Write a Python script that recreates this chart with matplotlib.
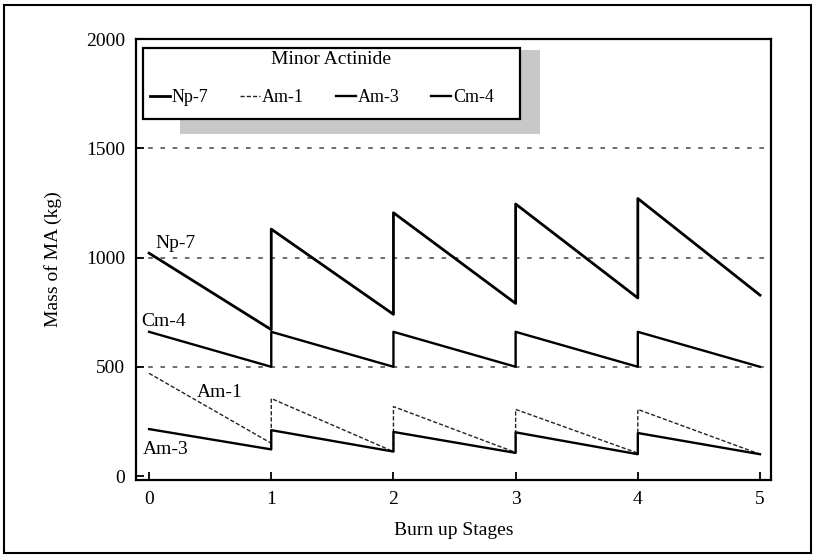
import matplotlib
matplotlib.use("Agg")
import matplotlib.pyplot as plt
from matplotlib.patches import Rectangle

plt.rcParams['font.family'] = ['Liberation Serif', 'DejaVu Serif']

# ---- data ----
stages = [0, 1, 2, 3, 4, 5]
stage_ticks = ['0', '1', '2', '3', '4', '5']
y_ticks = [0, 500, 1000, 1500, 2000]
grid_levels = [500, 1000, 1500]

np7_start = [1020, 1130, 1205, 1245, 1270]
np7_end = [670, 740, 790, 815, 828]
am1_start = [470, 355, 318, 305, 305]
am1_end = [150, 112, 108, 105, 100]
am3_start = [215, 210, 202, 200, 197]
am3_end = [122, 112, 106, 100, 100]
cm4_start = [660, 660, 660, 660, 660]
cm4_end = [500, 500, 500, 500, 500]

series_names = ['Np-7', 'Am-1', 'Am-3', 'Cm-4']
legend_title = 'Minor Actinide'


def sawtooth(starts, ends):
    xs, ys = [], []
    for i, (s, e) in enumerate(zip(starts, ends)):
        xs += [stages[i], stages[i + 1]]
        ys += [s, e]
    return xs, ys


W, H = 816, 557
AX_L, AX_R, AX_T, AX_B = 136, 771, 39, 480
fig = plt.figure(figsize=(W / 100, H / 100), dpi=100)
ax = fig.add_axes([AX_L / W, 1 - AX_B / H, (AX_R - AX_L) / W, (AX_B - AX_T) / H])


def axx(px):
    return (px - AX_L) / (AX_R - AX_L)


def axy(py):
    return (AX_B - py) / (AX_B - AX_T)


# outer frame of the image
fig.patches.append(Rectangle((4 / W, 4 / H), 1 - 9 / W, 1 - 9 / H,
                             transform=fig.transFigure, fill=False,
                             edgecolor='black', linewidth=1.5))

for g in grid_levels:
    ax.axhline(g, color='#444444', linewidth=1.1, linestyle=(0, (3, 5)), zorder=1)

styles = {
    'Np-7': dict(color='black', linewidth=2.0, linestyle='-'),
    'Am-1': dict(color='#222222', linewidth=1.0, linestyle=(0, (3, 1.5))),
    'Am-3': dict(color='black', linewidth=1.7, linestyle='-'),
    'Cm-4': dict(color='black', linewidth=1.7, linestyle='-'),
}
data = {
    'Np-7': (np7_start, np7_end),
    'Am-1': (am1_start, am1_end),
    'Am-3': (am3_start, am3_end),
    'Cm-4': (cm4_start, cm4_end),
}
handles = []
for name in series_names:
    xs, ys = sawtooth(*data[name])
    h, = ax.plot(xs, ys, label=name, zorder=3, **styles[name])
    handles.append(h)

# curve labels
ax.text(0.22, 1064, 'Np-7', fontsize=14, ha='center', va='center')
ax.text(0.12, 709, 'Cm-4', fontsize=14, ha='center', va='center')
ax.text(0.58, 382, 'Am-1', fontsize=14, ha='center', va='center')
ax.text(0.14, 123, 'Am-3', fontsize=14, ha='center', va='center')

ax.set_xlim(-0.107, 5.09)
ax.set_ylim(-18, 2000)
ax.set_xticks(stages)
ax.set_xticklabels(stage_ticks)
ax.set_yticks(y_ticks)
ax.tick_params(direction='in', length=6, width=1.3, labelsize=14, pad=8)
for sp in ax.spines.values():
    sp.set_linewidth(1.6)

ax.set_xlabel('Burn up Stages', fontsize=14)
ax.set_ylabel('Mass of MA (kg)', fontsize=14)
ax.xaxis.set_label_coords(0.5, axy(522))
ax.yaxis.set_label_coords(axx(62), 0.5)

# legend shadow
ax.add_patch(Rectangle((axx(180), axy(134)), axx(540) - axx(180), axy(50) - axy(134),
                       transform=ax.transAxes, facecolor='#c8c8c8',
                       edgecolor='none', zorder=4))
# legend frame
ax.add_patch(Rectangle((axx(143), axy(119)), axx(520) - axx(143), axy(48) - axy(119),
                       transform=ax.transAxes, facecolor='white',
                       edgecolor='black', linewidth=1.6, zorder=5))
ax.text(axx(331), axy(60), legend_title, transform=ax.transAxes, fontsize=14,
        ha='center', va='center', zorder=6)

leg = ax.legend(handles=handles, labels=series_names,
                loc='center left', ncol=4, mode='expand',
                bbox_to_anchor=(axx(150), axy(98), axx(494) - axx(150), 0),
                fontsize=13, handlelength=1.1, handletextpad=0.1,
                columnspacing=1.0, borderpad=0, borderaxespad=0,
                frameon=False)
leg.set_zorder(7)

fig.savefig('out.png', dpi=100)
